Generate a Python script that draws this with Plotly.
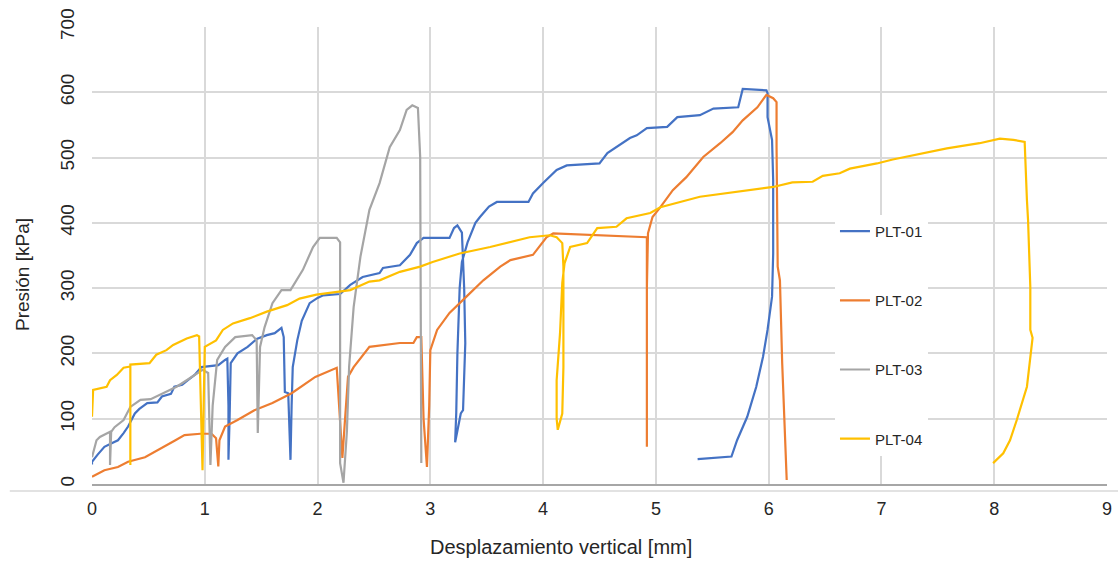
import plotly.graph_objects as go

# ---------------- data ----------------
plt01_x = [0.00, 0.00, 0.05, 0.11, 0.17, 0.23, 0.28, 0.32, 0.38, 0.42, 0.49, 0.58, 0.62, 0.70, 0.73,
           0.80, 0.85, 0.91, 0.97, 1.05, 1.12, 1.18, 1.20, 1.21, 1.21, 1.22, 1.23, 1.29, 1.38, 1.46,
           1.55, 1.62, 1.68, 1.70, 1.71, 1.74, 1.76, 1.77, 1.78, 1.82, 1.86, 1.93, 2.00, 2.05, 2.20,
           2.29, 2.40, 2.55, 2.58, 2.73, 2.82, 2.88, 2.94, 3.17, 3.21, 3.24, 3.28, 3.30, 3.31, 3.29,
           3.27, 3.22, 3.23, 3.24, 3.26, 3.28, 3.33, 3.40, 3.44, 3.52, 3.59, 3.87, 3.91, 4.00, 4.05,
           4.12, 4.21, 4.50, 4.57, 4.68, 4.77, 4.83, 4.92, 5.10, 5.19, 5.39, 5.51, 5.73, 5.77, 5.98,
           5.99, 5.99, 6.03, 6.04, 6.04, 6.03, 5.99, 5.95, 5.89, 5.81, 5.72, 5.67, 5.37]
plt01_y = [30, 34, 45, 57, 62, 67, 78, 88, 108, 115, 124, 125, 134, 138, 149,
           152, 159, 167, 179, 180, 182, 190, 192, 120, 37, 100, 185, 200, 210, 222,
           228, 231, 239, 225, 141, 139, 37, 120, 179, 220, 250, 277, 285, 289, 291,
           305, 317, 323, 331, 335, 351, 369, 377, 377, 392, 396, 385, 300, 216, 113,
           108, 64, 110, 200, 300, 340, 370, 400, 409, 425, 432, 432, 445, 461, 470,
           481, 488, 491, 507, 519, 530, 534, 545, 547, 562, 565, 575, 577, 605, 603,
           599, 562, 527, 465, 353, 287, 236, 195, 149, 103, 67, 42, 38]

plt02_x = [0.00, 0.11, 0.23, 0.32, 0.47, 0.62, 0.74, 0.82, 0.96, 1.06, 1.10, 1.12, 1.13, 1.18, 1.29,
           1.44, 1.60, 1.77, 1.98, 2.17, 2.18, 2.20, 2.22, 2.24, 2.27, 2.32, 2.46, 2.73, 2.85, 2.88,
           2.92, 2.94, 2.97, 2.99, 3.00, 3.06, 3.17, 3.32, 3.47, 3.62, 3.71, 3.91, 4.03, 4.09, 4.92,
           4.92, 4.92, 4.93, 4.97, 5.04, 5.15, 5.27, 5.42, 5.57, 5.68, 5.77, 5.90, 5.98, 6.04, 6.07,
           6.07, 6.08, 6.10, 6.12, 6.14, 6.16]
plt02_y = [11, 21, 26, 34, 41, 55, 67, 75, 77, 77, 70, 27, 67, 88, 98,
           113, 124, 139, 164, 178, 150, 80, 40, 90, 164, 179, 210, 216, 216, 225,
           225, 100, 26, 120, 205, 236, 262, 287, 312, 333, 343, 351, 378, 384, 378,
           57, 300, 384, 409, 424, 450, 470, 501, 522, 539, 557, 577, 596, 591, 585,
           516, 333, 312, 185, 83, 6]

plt03_x = [0.00, 0.04, 0.07, 0.16, 0.16, 0.17, 0.20, 0.28, 0.34, 0.43, 0.52, 0.63, 0.75, 0.84, 0.93,
           0.98, 1.03, 1.05, 1.07, 1.11, 1.18, 1.27, 1.42, 1.46, 1.47, 1.48, 1.49, 1.53, 1.60, 1.68,
           1.76, 1.87, 1.96, 2.02, 2.17, 2.20, 2.20, 2.23, 2.26, 2.28, 2.30, 2.32, 2.38, 2.46, 2.55,
           2.64, 2.73, 2.79, 2.84, 2.89, 2.91, 2.92]
plt03_y = [41, 67, 72, 80, 29, 80, 87, 98, 118, 129, 130, 139, 149, 159, 170,
           175, 170, 29, 120, 190, 210, 225, 228, 220, 78, 150, 210, 240, 277, 297,
           297, 328, 363, 377, 377, 370, 32, 2, 80, 180, 230, 271, 348, 420, 461,
           516, 542, 573, 580, 576, 501, 32]

plt04_x = [0.00, 0.01, 0.13, 0.16, 0.22, 0.28, 0.34, 0.34, 0.34, 0.51, 0.57, 0.66, 0.72, 0.84, 0.93,
           0.95, 0.97, 0.98, 0.99, 1.00, 1.10, 1.16, 1.25, 1.40, 1.55, 1.73, 1.84, 1.99, 2.29, 2.46,
           2.55, 2.73, 2.91, 3.02, 3.26, 3.53, 3.88, 4.06, 4.12, 4.17, 4.18, 4.18, 4.17, 4.13, 4.12,
           4.12, 4.15, 4.17, 4.19, 4.24, 4.39, 4.48, 4.65, 4.74, 4.95, 5.04, 5.39, 5.81, 6.04, 6.21,
           6.39, 6.48, 6.63, 6.72, 6.96, 7.10, 7.25, 7.40, 7.58, 7.87, 8.05, 8.17, 8.27, 8.29, 8.30,
           8.32, 8.32, 8.34, 8.29, 8.20, 8.14, 8.08, 7.99]
plt04_y = [103, 144, 149, 159, 167, 178, 180, 29, 183, 185, 198, 205, 213, 223, 228,
           226, 80, 21, 120, 210, 220, 236, 246, 254, 264, 274, 284, 290, 297, 310,
           312, 325, 333, 340, 353, 363, 378, 381, 378, 369, 333, 179, 108, 83, 100,
           159, 231, 308, 338, 363, 369, 392, 394, 407, 415, 424, 440, 450, 455, 462,
           463, 472, 476, 483, 491, 497, 502, 507, 514, 522, 529, 527, 524, 435, 404,
           302, 236, 224, 149, 98, 67, 47, 32]

series_names = ["PLT-01", "PLT-02", "PLT-03", "PLT-04"]
series_colors = ["#4472C4", "#ED7D31", "#A5A5A5", "#FFC000"]
xs = [plt01_x, plt02_x, plt03_x, plt04_x]
ys = [plt01_y, plt02_y, plt03_y, plt04_y]

x_ticks = [0, 1, 2, 3, 4, 5, 6, 7, 8, 9]
y_ticks = [0, 100, 200, 300, 400, 500, 600, 700]
x_title = "Desplazamiento vertical [mm]"
y_title = "Presión [kPa]"

FONT = "Liberation Sans, Arial, sans-serif"
TXT = "#262626"

fig = go.Figure()
for name, col, x, y in zip(series_names, series_colors, xs, ys):
    fig.add_trace(go.Scatter(x=x, y=y, mode="lines", name=name, legendgroup=name,
                             line=dict(color=col, width=2.2)))

fig.update_layout(
    width=1118, height=565,
    margin=dict(l=92, r=11, t=27, b=81),
    paper_bgcolor="white", plot_bgcolor="white",
    font=dict(family=FONT, color=TXT),
    showlegend=True,
    legend=dict(x=0.732, y=0.589, xanchor="left", yanchor="top",
                bgcolor="white", font=dict(size=15, color=TXT),
                tracegroupgap=46.7, itemwidth=30),
    xaxis=dict(range=[0, 9], tickvals=x_ticks, ticktext=[str(v) for v in x_ticks],
               automargin=False,
               showgrid=True, gridcolor="#D9D9D9", gridwidth=1.5,
               zeroline=False, showline=True, linecolor="#A6A6A6", linewidth=2,
               ticks="", tickfont=dict(size=18, color=TXT), ticklabelstandoff=7),
    yaxis=dict(range=[0, 700], tickvals=y_ticks, ticktext=[str(v) for v in y_ticks],
               automargin=False,
               showgrid=True, gridcolor="#D9D9D9", gridwidth=1.5,
               zeroline=False, showline=False, ticks="", tickangle=-90,
               tickfont=dict(size=19, color=TXT), ticklabelstandoff=13),
)

# axis titles placed as in the reference
fig.add_annotation(text=x_title, xref="paper", yref="paper",
                   x=(561 - 92) / 1015, y=(484 - 547) / 457, xanchor="center", yanchor="middle",
                   showarrow=False, font=dict(size=20, color=TXT, family=FONT))
fig.add_annotation(text=y_title, xref="paper", yref="paper", textangle=-90,
                   x=(22 - 92) / 1015, y=(484 - 275) / 457, xanchor="center", yanchor="middle",
                   showarrow=False, font=dict(size=19, color=TXT, family=FONT))

# extra light baseline under the plot area
fig.add_shape(type="line", xref="paper", yref="paper", x0=-0.081, x1=1.011, y0=-0.0153, y1=-0.0153,
              line=dict(color="#D9D9D9", width=1.5))

fig.write_html("out.html")
